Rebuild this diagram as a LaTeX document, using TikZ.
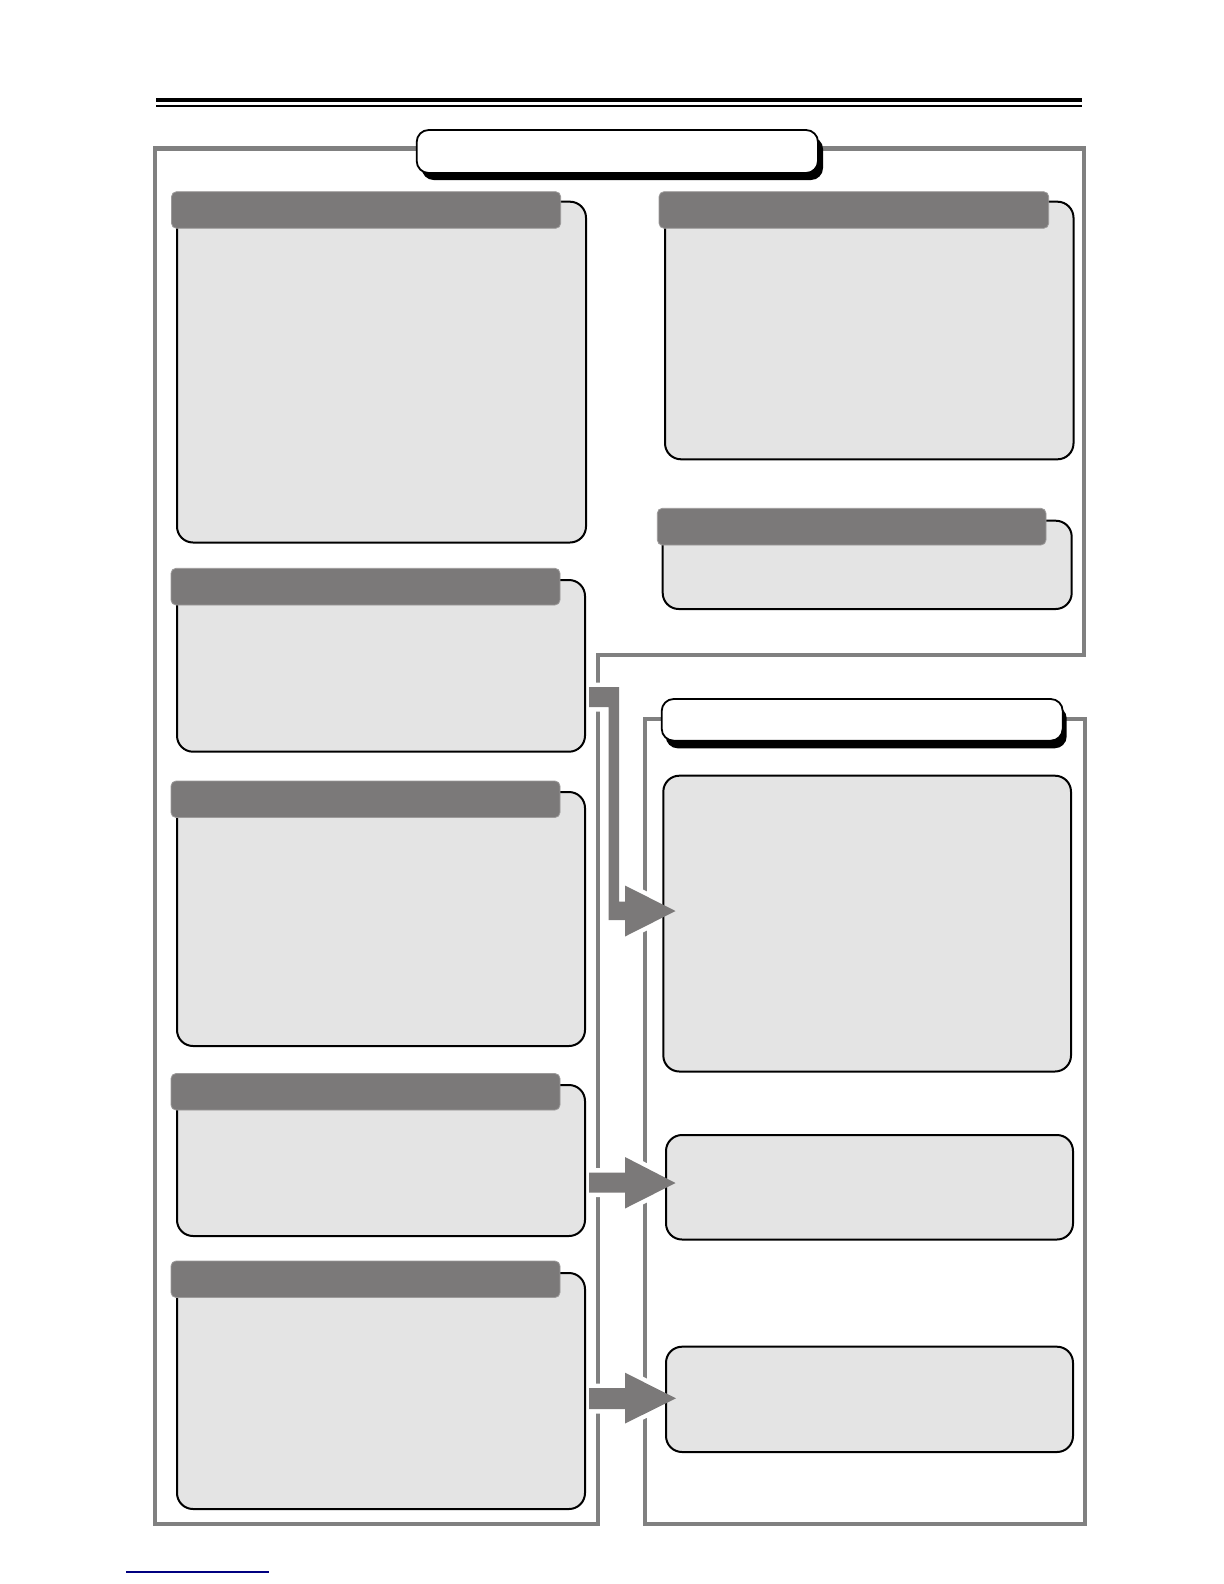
\documentclass[tikz,border=0pt]{standalone}
\usetikzlibrary{fit}
\definecolor{framegray}{RGB}{128,128,128}
\definecolor{bargray}{RGB}{123,121,121}
\definecolor{boxfill}{RGB}{228,228,228}
\definecolor{linkblue}{RGB}{0,0,128}
\begin{document}
\begin{tikzpicture}[x=0.5pt,y=-0.5pt,
  frame/.style={draw=framegray,line width=2.25pt},
  panel/.style={draw=black,fill=boxfill,line width=1pt,rounded corners=8pt,inner sep=0pt},
  headbar/.style={fill=bargray,draw=bargray!75!white,line width=0.4pt,rounded corners=2.5pt,inner sep=0pt},
  titlebox/.style={draw=black,fill=white,line width=0.9pt,rounded corners=6pt,inner sep=0pt},
  titleshadow/.style={fill=black,rounded corners=6pt,inner sep=0pt},
  arrowhalo/.style={draw=white,line width=4.5pt,line join=round},
  arrowbody/.style={fill=bargray}]
\useasboundingbox (0,0) rectangle (1224,1584);

% top rules
\coordinate (ruleL) at (156,100.2);
\coordinate (ruleR) at (1082,100.2);
\draw[line width=1.9pt] (ruleL) -- (ruleR);
\draw[line width=0.7pt] ([yshift=-2.9pt]ruleL) -- ([yshift=-2.9pt]ruleR);

% frames
\draw[frame] (155,148.5) -- (1084,148.5) -- (1084,655) -- (598,655) -- (598,1524) -- (155,1524) -- cycle;
\draw[frame] (645,719) rectangle (1085,1524);

% arrow paths
\def\arrowA{(589,687) -- (619,687) -- (619,901.7) -- (625,901.7) -- (625,885.5) -- (675.5,911) -- (625,936.5) -- (625,920) -- (608.5,920) -- (608.5,707) -- (589,707) -- cycle}
\def\arrowB{(589,1172.5) -- (625,1172.5) -- (625,1157) -- (675.5,1183) -- (625,1208.5) -- (625,1192.5) -- (589,1192.5) -- cycle}
\def\arrowC{(589,1388) -- (625,1388) -- (625,1372.7) -- (676,1398.3) -- (625,1423.5) -- (625,1409) -- (589,1409) -- cycle}
\path[arrowhalo] \arrowA;
\path[arrowhalo] \arrowB;
\path[arrowhalo] \arrowC;

% left column panels
\node[panel, fit={(177,201.7) (586,542.5)}] (L1) {};
\node[headbar, fit={(171.5,191.7) (560.7,228.3)}] (H1) {};
\node[panel, fit={(177,580) (585,751.7)}] (L2) {};
\node[headbar, fit={(171,568.3) (560,605)}] (H2) {};
\node[panel, fit={(177,792) (585,1046)}] (L3) {};
\node[headbar, fit={(171,781) (560,817.5)}] (H3) {};
\node[panel, fit={(177,1085) (585,1236)}] (L4) {};
\node[headbar, fit={(171,1073.5) (560,1110)}] (H4) {};
\node[panel, fit={(177,1273) (585,1509)}] (L5) {};
\node[headbar, fit={(171,1261) (560,1297.5)}] (H5) {};

% right column, upper frame
\node[panel, fit={(665,201.7) (1073.5,459.3)}] (R1) {};
\node[headbar, fit={(659,191.7) (1048.7,228.3)}] (RH1) {};
\node[panel, fit={(662.7,520.7) (1071.7,609)}] (R2) {};
\node[headbar, fit={(657.3,508.3) (1046,545)}] (RH2) {};

% right frame panels
\node[panel, fit={(663.3,775.7) (1071,1071.5)}] (P1) {};
\node[panel, fit={(666,1135) (1073,1239.5)}] (P2) {};
\node[panel, fit={(666,1346.7) (1073,1452)}] (P3) {};

% title boxes
\node[titleshadow, fit={(421.7,137) (823,180)}] (T1s) {};
\node[titlebox, fit={(416.7,130) (818,173)}] (T1) {};
\node[titleshadow, fit={(665.7,706.5) (1066.7,748.3)}] (T2s) {};
\node[titlebox, fit={(661.7,699) (1062.7,740.7)}] (T2) {};

% arrows
\fill[arrowbody] \arrowA;
\fill[arrowbody] \arrowB;
\fill[arrowbody] \arrowC;

% link underline
\coordinate (linkL) at (126,1572);
\coordinate (linkR) at (269,1572);
\draw[linkblue, line width=0.6pt] (linkL) -- (linkR);
\end{tikzpicture}
\end{document}
